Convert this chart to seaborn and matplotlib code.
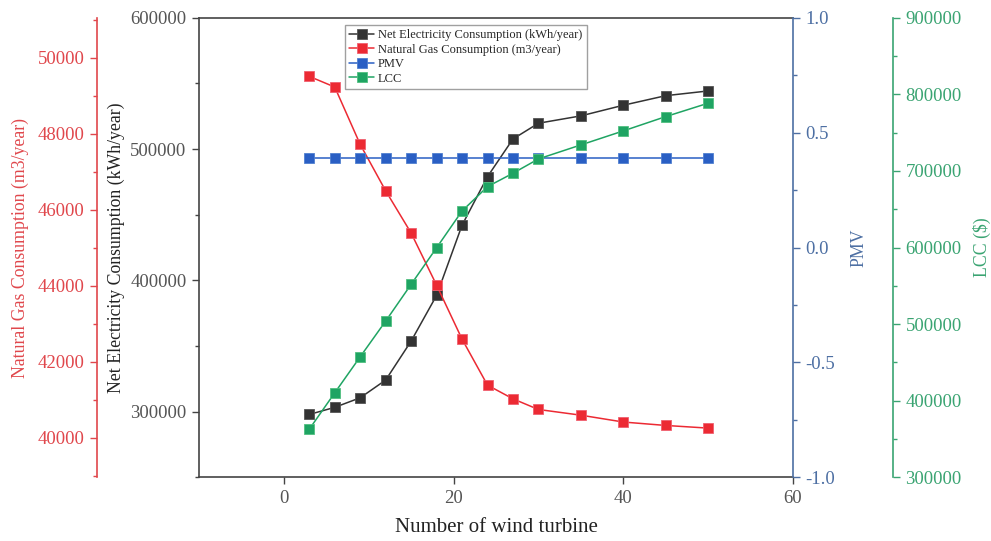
import matplotlib
matplotlib.use("Agg")
import matplotlib.pyplot as plt
import seaborn as sns
from matplotlib.ticker import MultipleLocator, AutoMinorLocator
from matplotlib.lines import Line2D

# Wind turbine count scenarios
turbines = [3, 6, 9, 12, 15, 18, 21, 24, 27, 30, 35, 40, 45, 50]

# Net electricity consumption (kWh/year)
net_electricity = [297800, 303200, 310500, 324000, 353700, 388500, 442000,
                   479000, 507700, 519700, 525300, 533400, 540700, 544300]

# Natural gas consumption (m3/year)
natural_gas = [49510, 49230, 47720, 46500, 45390, 44020, 42600,
               41390, 41030, 40750, 40600, 40420, 40330, 40260]

# Predicted mean vote
pmv = [0.39] * 14

# Life cycle cost ($)
lcc = [362700, 410200, 457300, 503900, 551900, 599700, 647700,
       679500, 697000, 715700, 734000, 752300, 771000, 788500]

C_BLACK = "#333333"
C_RED = "#ec2a33"
C_BLUE = "#2a5fc4"
C_GREEN = "#1fa463"
C_RED_AX = "#e0474c"
C_BLUE_AX = "#4d6fa3"
C_GREEN_AX = "#3aa472"

sns.set_theme(style="white")
plt.rcParams["font.family"] = ["Liberation Serif", "DejaVu Serif"]
plt.rcParams["axes.linewidth"] = 1.2
plt.rcParams["axes.unicode_minus"] = False

TICK_FS = 13.5
LABEL_FS = 12.8

fig = plt.figure(figsize=(9.91, 5.41), dpi=100)
ax = fig.add_axes([0.2008, 0.118, 0.5994, 0.849])
ax_gas = ax.twinx()
ax_pmv = ax.twinx()
ax_lcc = ax.twinx()

mk = dict(marker="s", markersize=7.5, linewidth=1.1, markeredgewidth=0.6)

sns.lineplot(x=turbines, y=net_electricity, ax=ax, color=C_BLACK,
             markeredgecolor="#555555", **mk)
sns.lineplot(x=turbines, y=natural_gas, ax=ax_gas, color=C_RED,
             markeredgecolor="#f06070", **mk)
sns.lineplot(x=turbines, y=pmv, ax=ax_pmv, color=C_BLUE,
             markeredgecolor="#5080d0", **mk)
sns.lineplot(x=turbines, y=lcc, ax=ax_lcc, color=C_GREEN,
             markeredgecolor="#50c080", **mk)


def style_ticks(a, axis, color, labelcolor):
    a.tick_params(axis=axis, which="both", direction="out", colors=color,
                  labelcolor=labelcolor, labelsize=TICK_FS, pad=4)
    a.tick_params(axis=axis, which="major", length=5, width=1)
    a.tick_params(axis=axis, which="minor", length=3, width=1)


# x axis
ax.set_xlim(-10, 60)
ax.xaxis.set_major_locator(MultipleLocator(20))
ax.xaxis.set_minor_locator(AutoMinorLocator(2))
ax.set_xlabel("Number of wind turbine", fontsize=15, color="#222222",
              labelpad=8)

# main (net electricity) axis, inner left
ax.set_ylim(250000, 600000)
ax.yaxis.set_major_locator(MultipleLocator(100000))
ax.yaxis.set_minor_locator(AutoMinorLocator(2))
ax.set_ylabel("Net Electricity Consumption (kWh/year)", fontsize=LABEL_FS,
              color="#222222")
ax.yaxis.set_label_coords(-0.1246, 0.5)
for s in ["left", "bottom", "top"]:
    ax.spines[s].set_color("#444444")
ax.spines["right"].set_visible(False)
style_ticks(ax, "both", "#444444", "#555555")
ax.tick_params(axis="x", bottom=True)
ax.tick_params(axis="y", left=True)

# natural gas axis, outer left
ax_gas.set_ylim(38970, 51050)
ax_gas.spines["left"].set_position(("axes", -102 / 594))
ax_gas.spines["left"].set_visible(True)
ax_gas.spines["left"].set_color(C_RED_AX)
for s in ["right", "top", "bottom"]:
    ax_gas.spines[s].set_visible(False)
ax_gas.yaxis.set_ticks_position("left")
ax_gas.yaxis.set_label_position("left")
ax_gas.yaxis.set_major_locator(MultipleLocator(2000))
ax_gas.yaxis.set_minor_locator(AutoMinorLocator(2))
style_ticks(ax_gas, "y", C_RED_AX, C_RED_AX)
ax_gas.set_ylabel("Natural Gas Consumption (m3/year)", fontsize=LABEL_FS,
                  color=C_RED_AX)
ax_gas.yaxis.set_label_coords(-0.286, 0.5)

# PMV axis, inner right
ax_pmv.set_ylim(-1.0, 1.0)
ax_pmv.spines["right"].set_color(C_BLUE_AX)
for s in ["left", "top", "bottom"]:
    ax_pmv.spines[s].set_visible(False)
ax_pmv.yaxis.set_major_locator(MultipleLocator(0.5))
ax_pmv.yaxis.set_minor_locator(AutoMinorLocator(2))
style_ticks(ax_pmv, "y", C_BLUE_AX, C_BLUE_AX)
ax_pmv.set_ylabel("PMV", fontsize=LABEL_FS, color=C_BLUE_AX)
ax_pmv.yaxis.set_label_coords(1.096, 0.5)

# LCC axis, outer right
ax_lcc.set_ylim(300000, 900000)
ax_lcc.spines["right"].set_position(("axes", 1 + 100 / 594))
ax_lcc.spines["right"].set_color(C_GREEN_AX)
for s in ["left", "top", "bottom"]:
    ax_lcc.spines[s].set_visible(False)
ax_lcc.yaxis.set_major_locator(MultipleLocator(100000))
ax_lcc.yaxis.set_minor_locator(AutoMinorLocator(2))
style_ticks(ax_lcc, "y", C_GREEN_AX, C_GREEN_AX)
ax_lcc.set_ylabel("LCC ($)", fontsize=LABEL_FS, color=C_GREEN_AX)
ax_lcc.yaxis.set_label_coords(1.303, 0.5)

for a in (ax, ax_gas, ax_pmv, ax_lcc):
    leg = a.get_legend()
    if leg is not None:
        leg.remove()


def handle(color, edge):
    return Line2D([], [], color=color, marker="s", markersize=7.5,
                  linewidth=1.1, markeredgecolor=edge, markeredgewidth=0.6)


handles = [handle(C_BLACK, "#555555"), handle(C_RED, "#f06070"),
           handle(C_BLUE, "#5080d0"), handle(C_GREEN, "#50c080")]
labels = ["Net Electricity Consumption (kWh/year)",
          "Natural Gas Consumption (m3/year)", "PMV", "LCC"]
ax_lcc.legend(handles, labels, loc="upper left", bbox_to_anchor=(0.2458, 0.985),
              fontsize=9, frameon=True, fancybox=False, edgecolor="#888888",
              handlelength=2.0, handletextpad=0.3, borderpad=0.35,
              labelspacing=0.2, borderaxespad=0.0)

fig.savefig("out.png", dpi=100, facecolor="white")
